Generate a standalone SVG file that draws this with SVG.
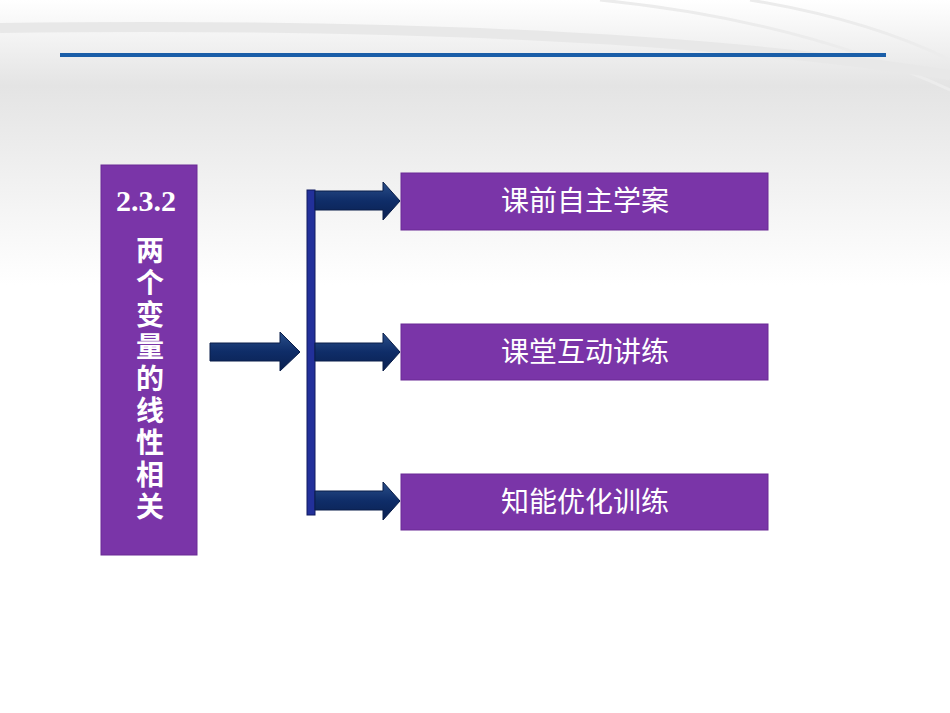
<svg xmlns="http://www.w3.org/2000/svg" width="950" height="713" viewBox="0 0 950 713">
<defs>
<linearGradient id="bg" x1="0" y1="0" x2="0" y2="1">
<stop offset="0" stop-color="#ffffff"/><stop offset="0.12" stop-color="#e4e4e4"/><stop offset="0.4" stop-color="#ffffff"/><stop offset="1" stop-color="#ffffff"/>
</linearGradient>
<linearGradient id="arr" x1="0" y1="0" x2="0" y2="1">
<stop offset="0" stop-color="#2a4f8a"/><stop offset="0.5" stop-color="#0f2d68"/><stop offset="1" stop-color="#0a2050"/>
</linearGradient>
<style>
.box{fill:#7a35a8;stroke:#6a2a95;stroke-width:1}
.t{fill:#fff;font-family:"Noto Sans CJK SC",sans-serif;font-size:28px;text-anchor:middle}
.a{fill:url(#arr);stroke:#0a1e4a;stroke-width:1}
</style>
</defs>
<rect width="950" height="713" fill="url(#bg)"/>
<path d="M600 0 Q800 20 950 90" fill="none" stroke="#ececec" stroke-width="3"/>
<path d="M750 0 Q870 20 950 60" fill="none" stroke="#ececec" stroke-width="3"/>
<path d="M0 28 Q600 20 950 75" fill="none" stroke="#e8e8e8" stroke-width="10"/>
<line x1="60" y1="55" x2="886" y2="55" stroke="#1a5ea8" stroke-width="4"/>
<g id="left">
<rect class="box" x="101" y="165" width="96" height="390"/>
<text x="146" y="211" fill="#fff" font-family="Liberation Serif,serif" font-weight="bold" font-size="30" text-anchor="middle">2.3.2</text>
<text class="t" font-weight="bold" font-size="26"><tspan x="150" y="261">两</tspan><tspan x="150" y="293">个</tspan><tspan x="150" y="325">变</tspan><tspan x="150" y="357">量</tspan><tspan x="150" y="389">的</tspan><tspan x="150" y="421">线</tspan><tspan x="150" y="453">性</tspan><tspan x="150" y="485">相</tspan><tspan x="150" y="517">关</tspan></text>
</g>
<g id="n1"><rect class="box" x="401" y="173" width="367" height="57"/><text class="t" x="585" y="211">课前自主学案</text></g>
<g id="n2"><rect class="box" x="401" y="324" width="367" height="56"/><text class="t" x="585" y="362">课堂互动讲练</text></g>
<g id="n3"><rect class="box" x="401" y="474" width="367" height="56"/><text class="t" x="585" y="512">知能优化训练</text></g>
<g id="connectors">
<path class="a" d="M210 343 H280 V332 L300 352 L280 371 V361 H210 Z"/>
<rect x="307" y="190" width="8" height="325" fill="#22309a" stroke="#101a60"/>
<path class="a" d="M315 191 H383 V182 L400 201 L383 220 V210 H315 Z"/>
<path class="a" d="M315 343 H383 V333 L400 352 L383 371 V361 H315 Z"/>
<path class="a" d="M315 491 H383 V482 L400 501 L383 520 V510 H315 Z"/>
</g>
</svg>
